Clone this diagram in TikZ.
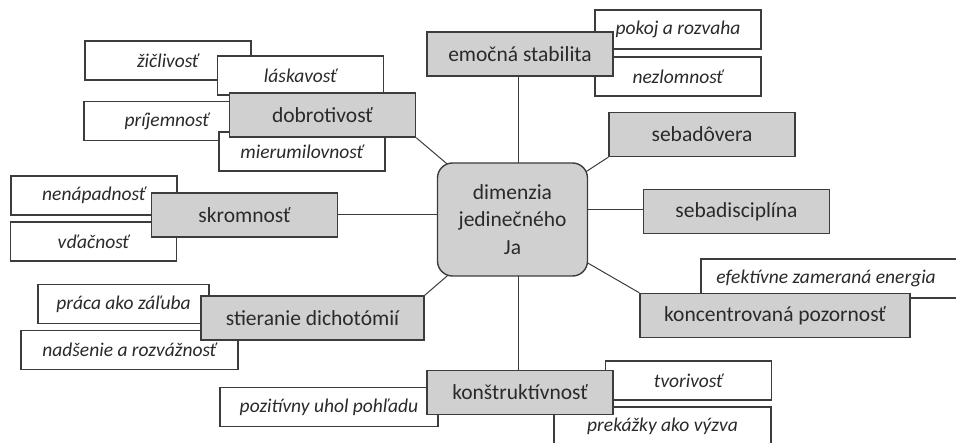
\documentclass[tikz,border=0pt]{standalone}
\usepackage{fontspec}
\setmainfont{Carlito}
\usetikzlibrary{backgrounds}
\definecolor{boxgray}{HTML}{D0D0D0}
\definecolor{edge}{HTML}{3C3C3C}
\definecolor{ink}{HTML}{2A2A2A}

\begin{document}
\begin{tikzpicture}[
  x=1pt,y=-1pt,
  dim/.style={draw=edge,line width=1.4pt,fill=boxgray,text=ink,inner sep=0pt,minimum width=186pt,minimum height=44pt,font=\fontsize{21.5}{27.5}\selectfont},
  trait/.style={draw=edge,line width=1.4pt,fill=white,text=ink,inner sep=0pt,minimum width=166pt,minimum height=39pt,font=\fontsize{19.5}{24}\selectfont\itshape},
  hub/.style={dim,rounded corners=15pt,minimum width=150pt,minimum height=113pt,align=center},
  link/.style={draw=edge,line width=1pt}
]
\useasboundingbox (0,0) rectangle (956,443);
\clip (0,0) rectangle (956,443);

% traits
\node[trait] (zic) at (168,60.5) {žičlivosť};
\node[trait] (lask) at (300.5,75.5) {láskavosť};
\node[trait] (prij) at (167,121) {príjemnosť};
\node[trait] (mier) at (302,151.5) {mierumilovnosť};
\node[trait] (pokoj) at (678,29.5) {pokoj a rozvaha};
\node[trait] (nezl) at (678,76.5) {nezlomnosť};
\node[trait] (nenap) at (94,195.5) {nenápadnosť};
\node[trait] (vdac) at (93.5,241.5) {vďačnosť};
\node[trait,minimum width=171pt] (praca) at (123.5,304) {práca ako záľuba};
\node[trait,minimum width=217pt] (nads) at (129.5,350) {nadšenie a rozvážnosť};
\node[trait,minimum width=218pt] (pozit) at (329,407) {pozitívny uhol pohľadu};
\node[trait,minimum width=270pt] (efekt) at (836,278.5) {\hspace*{-20pt}efektívne zameraná energia};
\node[trait] (tvor) at (688.5,380.5) {tvorivosť};
\node[trait,minimum width=217pt] (prek) at (662.5,426.5) {prekážky ako výzva};

% dimensions
\node[hub] (ja) at (512.5,219.5) {dimenzia\\jedinečného\\Ja};
\node[dim] (emo) at (520,54) {emočná stabilita};
\node[dim] (dobro) at (322.5,115) {dobrotivosť};
\node[dim] (sebad) at (702,134.5) {sebadôvera};
\node[dim] (skrom) at (244.5,215) {skromnosť};
\node[dim] (disc) at (736.5,211.5) {sebadisciplína};
\node[dim,minimum width=223pt] (stier) at (312.5,318) {stieranie dichotómií};
\node[dim,minimum width=270pt] (konc) at (775,315.5) {koncentrovaná pozornosť};
\node[dim] (konst) at (520,392.5) {konštruktívnosť};

% spokes
\begin{scope}[on background layer]
\draw[link] ([xshift=-2pt]emo.south) -- ([xshift=-2pt]emo.south |- ja.center);
\draw[link] (dobro.south east) -- (ja.center);
\draw[link] (sebad.south west) -- (ja.center);
\draw[link] (skrom.east) -- (skrom.east -| ja.center);
\draw[link] ([yshift=1.5pt]disc.west) -- ([yshift=1.5pt]disc.west -| ja.center);
\draw[link] (stier.north east) -- (ja.center);
\draw[link] (konc.north west) -- (ja.center);
\draw[link] ([xshift=-2pt]konst.north) -- ([xshift=-2pt]konst.north |- ja.center);
\end{scope}
\end{tikzpicture}
\end{document}
